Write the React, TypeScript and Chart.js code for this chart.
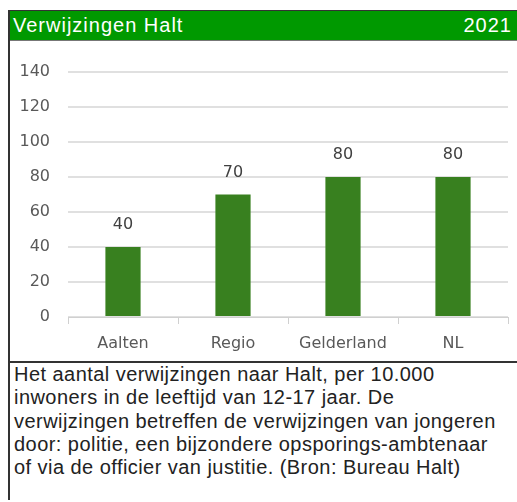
import React, { useEffect, useRef } from 'react';
import { Chart, registerables } from 'chart.js';

Chart.register(...registerables);

const title = 'Verwijzingen Halt';
const year = '2021';
const categories = ['Aalten', 'Regio', 'Gelderland', 'NL'];
const values = [40, 70, 80, 80];
const yMin = 0;
const yMax = 140;
const yStep = 20;
const noteLines = [
  'Het aantal verwijzingen naar Halt, per 10.000',
  'inwoners in de leeftijd van 12-17 jaar. De',
  'verwijzingen betreffen de verwijzingen van jongeren',
  'door: politie, een bijzondere opsporings-ambtenaar',
  'of via de officier van justitie. (Bron: Bureau Halt)',
];

const CHART_FONT = '"DejaVu Sans", sans-serif';

const valueLabelPlugin = {
  id: 'valueLabels',
  afterDatasetsDraw(chart: any) {
    const ctx = chart.ctx;
    const meta = chart.getDatasetMeta(0);
    ctx.save();
    ctx.font = `16px ${CHART_FONT}`;
    ctx.fillStyle = '#404040';
    ctx.textAlign = 'center';
    ctx.textBaseline = 'middle';
    meta.data.forEach((el: any, i: number) => {
      ctx.fillText(String(values[i]), el.x, el.y - 22);
    });
    ctx.restore();
  },
};

export default function App() {
  const canvasRef = useRef<HTMLCanvasElement | null>(null);

  useEffect(() => {
    if (!canvasRef.current) return;
    const chart = new Chart(canvasRef.current, {
      type: 'bar',
      data: {
        labels: categories,
        datasets: [
          {
            data: values,
            backgroundColor: '#38801f',
            borderWidth: 0,
            categoryPercentage: 1,
            barPercentage: 0.32,
          },
        ],
      },
      options: {
        animation: false,
        responsive: true,
        maintainAspectRatio: false,
        layout: { padding: { top: 31, right: 9, bottom: 0, left: 0 } },
        plugins: {
          legend: { display: false },
          tooltip: { enabled: false },
        },
        scales: {
          x: {
            offset: true,
            grid: {
              offset: true,
              drawOnChartArea: false,
              drawTicks: true,
              tickLength: 7,
              color: '#d0d0d0',
              lineWidth: 1,
            },
            border: { display: true, color: '#d0d0d0', width: 1 },
            ticks: {
              color: '#595959',
              font: { family: CHART_FONT, size: 16 },
              padding: 10,
              maxRotation: 0,
            },
            afterFit(scale: any) {
              scale.height = 44;
            },
          },
          y: {
            min: yMin,
            max: yMax,
            grid: {
              color: '#e0e0e0',
              lineWidth: 2,
              drawTicks: false,
            },
            border: { display: false },
            ticks: {
              stepSize: yStep,
              color: '#595959',
              font: { family: CHART_FONT, size: 16 },
              padding: 18,
            },
            afterFit(scale: any) {
              scale.width = 58;
            },
          },
        },
      },
      plugins: [valueLabelPlugin],
    });
    return () => chart.destroy();
  }, []);

  return (
    <div
      style={{
        position: 'absolute',
        left: 8,
        top: 10,
        width: 509,
        height: 490,
        boxSizing: 'border-box',
        borderLeft: '2px solid #333',
        borderTop: '1px solid #333',
        background: '#fff',
        fontFamily: '"Liberation Sans", Arial, sans-serif',
      }}
    >
      <div
        style={{
          height: 29,
          background: '#009900',
          color: '#fff',
          display: 'flex',
          alignItems: 'center',
          justifyContent: 'space-between',
          padding: '0 5px 0 3px',
          fontSize: 20,
          letterSpacing: '1px',
          borderBottom: '1px solid #777',
        }}
      >
        <span>{title}</span>
        <span>{year}</span>
      </div>
      <div style={{ position: 'relative', height: 320 }}>
        <canvas ref={canvasRef} />
      </div>
      <div
        style={{
          borderTop: '2px solid #333',
          paddingLeft: 4,
          fontSize: 20,
          lineHeight: '23.3px',
          color: '#222',
          letterSpacing: '0.45px',
          whiteSpace: 'nowrap',
        }}
      >
        {noteLines.map((l, i) => (
          <div key={i}>{l}</div>
        ))}
      </div>
    </div>
  );
}
